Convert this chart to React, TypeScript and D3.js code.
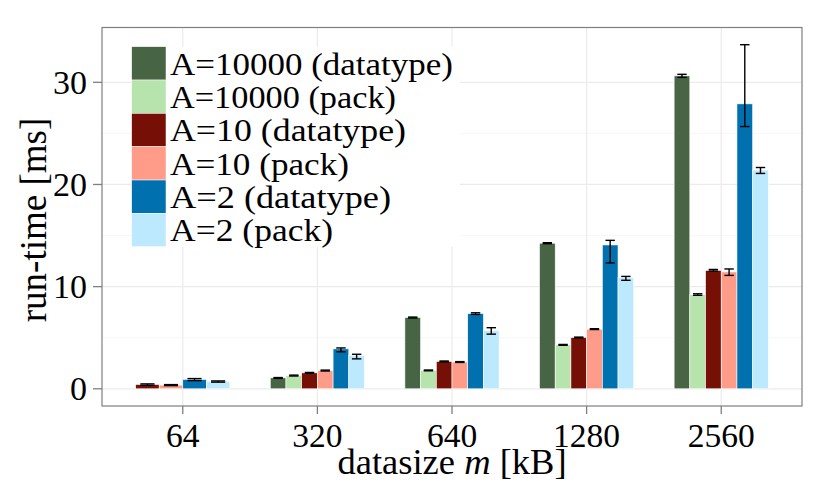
import React from "react";
import * as d3 from "d3";

const categories = ["64", "320", "640", "1280", "2560"];
const seriesNames = [
  "A=10000 (datatype)",
  "A=10000 (pack)",
  "A=10 (datatype)",
  "A=10 (pack)",
  "A=2 (datatype)",
  "A=2 (pack)",
];
const seriesColors = ["#476545", "#b7e4ad", "#761006", "#fe9b89", "#0071ae", "#bde9fe"];

// mean values (null = not measured)
const a10000Datatype = [null, 1.07, 6.98, 14.25, 30.63];
const a10000Pack = [null, 1.3, 1.8, 4.3, 9.22];
const a10Datatype = [0.42, 1.56, 2.68, 5.02, 11.59];
const a10Pack = [0.36, 1.79, 2.62, 5.84, 11.44];
const a2Datatype = [0.92, 3.91, 7.36, 14.08, 27.89];
const a2Pack = [0.72, 3.28, 5.7, 10.88, 21.41];

// error bar lower / upper bounds
const a10000DatatypeLo = [null, 1.02, 6.93, 14.2, 30.48];
const a10000DatatypeHi = [null, 1.1, 7.02, 14.3, 30.78];
const a10000PackLo = [null, 1.25, 1.76, 4.26, 9.15];
const a10000PackHi = [null, 1.34, 1.84, 4.34, 9.3];
const a10DatatypeLo = [0.34, 1.52, 2.64, 4.98, 11.52];
const a10DatatypeHi = [0.48, 1.6, 2.72, 5.06, 11.68];
const a10PackLo = [0.31, 1.74, 2.58, 5.8, 11.1];
const a10PackHi = [0.41, 1.83, 2.66, 5.88, 11.73];
const a2DatatypeLo = [0.8, 3.62, 7.28, 12.32, 25.67];
const a2DatatypeHi = [1.0, 4.0, 7.44, 14.53, 33.68];
const a2PackLo = [0.65, 2.93, 5.35, 10.62, 21.08];
const a2PackHi = [0.77, 3.38, 5.98, 11.0, 21.66];

const yTicks = [0, 10, 20, 30];
const yMinorTicks = [5, 15, 25];

const seriesValues = [a10000Datatype, a10000Pack, a10Datatype, a10Pack, a2Datatype, a2Pack];
const seriesLo = [a10000DatatypeLo, a10000PackLo, a10DatatypeLo, a10PackLo, a2DatatypeLo, a2PackLo];
const seriesHi = [a10000DatatypeHi, a10000PackHi, a10DatatypeHi, a10PackHi, a2DatatypeHi, a2PackHi];

// style: rendered widths of legend labels (to mimic Computer Modern metrics)
const legendLabelWidths = [283, 226, 236, 179, 221, 163];

const W = 830;
const H = 498;
const panel = { left: 102, right: 802, top: 27.5, bottom: 406 };
const FONT = "'Liberation Serif', 'DejaVu Serif', serif";

export default function App() {
  const dataMax = d3.max(seriesHi.flat().filter((v) => v != null) as number[]) as number;
  const dataMin = 0;
  const pad = (dataMax - dataMin) * 0.05;
  const y = d3
    .scaleLinear()
    .domain([dataMin - pad, dataMax + pad])
    .range([panel.bottom, panel.top]);

  // ggplot discrete: expand 0.6 on each side
  const x = d3
    .scalePoint()
    .domain(categories)
    .range([panel.left, panel.right])
    .padding(0.6);
  const step = x.step();
  const cx = (i: number) => x(categories[i]) as number;
  const dodge = 0.7 * step;

  const bars: React.ReactNode[] = [];
  const errs: React.ReactNode[] = [];
  categories.forEach((c, ci) => {
    const present = seriesValues.map((s, si) => (s[ci] != null ? si : -1)).filter((si) => si >= 0);
    const bw = dodge / present.length;
    const start = cx(ci) - dodge / 2;
    present.forEach((si, k) => {
      const v = seriesValues[si][ci] as number;
      const x0 = start + k * bw;
      bars.push(
        <rect
          key={`b${ci}-${si}`}
          x={x0}
          y={y(v)}
          width={bw}
          height={y(0) - y(v)}
          fill={seriesColors[si]}
          stroke="#ffffff"
          strokeWidth={0.6}
        />
      );
      const lo = seriesLo[si][ci] as number;
      const hi = seriesHi[si][ci] as number;
      const mid = x0 + bw / 2;
      const ww = bw * 0.3;
      errs.push(
        <g key={`e${ci}-${si}`} stroke="#000" strokeWidth={1.4} fill="none">
          <line x1={mid} x2={mid} y1={y(lo)} y2={y(hi)} />
          <line x1={mid - ww} x2={mid + ww} y1={y(lo)} y2={y(lo)} />
          <line x1={mid - ww} x2={mid + ww} y1={y(hi)} y2={y(hi)} />
        </g>
      );
    });
  });

  const legX = 131.7;
  const legY = 46.7;
  const keyH = 33.33;
  const keyW = 34.3;

  return (
    <svg width={W} height={H} style={{ position: "absolute", left: 0, top: 0, background: "#fff" }}>
      <rect x={0} y={0} width={W} height={H} fill="#fff" />
      {/* gridlines */}
      {yMinorTicks.map((t) => (
        <line key={`mn${t}`} x1={panel.left} x2={panel.right} y1={y(t)} y2={y(t)} stroke="#f5f5f5" strokeWidth={0.8} />
      ))}
      {yTicks.map((t) => (
        <line key={`mj${t}`} x1={panel.left} x2={panel.right} y1={y(t)} y2={y(t)} stroke="#ebebeb" strokeWidth={1.2} />
      ))}
      {categories.map((c, i) => (
        <line key={`vg${c}`} x1={cx(i)} x2={cx(i)} y1={panel.top} y2={panel.bottom} stroke="#ebebeb" strokeWidth={1.2} />
      ))}
      {bars}
      {errs}
      {/* legend */}
      <rect x={legX} y={legY} width={328} height={keyH * 6} fill="#fff" />
      {seriesNames.map((n, i) => (
        <g key={`lg${i}`}>
          <rect x={legX} y={legY + i * keyH} width={keyW} height={keyH} fill={seriesColors[i]} stroke="#fff" strokeWidth={0.5} />
          <text
            x={legX + keyW + 4}
            y={legY + i * keyH + 28}
            fontFamily={FONT}
            fontSize={31.5}
            textLength={legendLabelWidths[i]}
            lengthAdjust="spacingAndGlyphs"
            fill="#000"
          >
            {n}
          </text>
        </g>
      ))}
      {/* panel border */}
      <rect
        x={panel.left}
        y={panel.top}
        width={panel.right - panel.left}
        height={panel.bottom - panel.top}
        fill="none"
        stroke="#7f7f7f"
        strokeWidth={1.2}
      />
      {/* y axis ticks */}
      {yTicks.map((t) => (
        <g key={`yt${t}`}>
          <line x1={panel.left - 9} x2={panel.left} y1={y(t)} y2={y(t)} stroke="#7f7f7f" strokeWidth={1.3} />
          <text x={panel.left - 15} y={y(t) + 11.5} textAnchor="end" fontFamily={FONT} fontSize={34} fill="#000">
            {t}
          </text>
        </g>
      ))}
      {/* x axis ticks */}
      {categories.map((c, i) => (
        <g key={`xt${c}`}>
          <line x1={cx(i)} x2={cx(i)} y1={panel.bottom} y2={panel.bottom + 8} stroke="#7f7f7f" strokeWidth={1.3} />
          <text x={cx(i)} y={447} textAnchor="middle" fontFamily={FONT} fontSize={33.5} fill="#000">
            {c}
          </text>
        </g>
      ))}
      {/* axis titles */}
      <text x={(panel.left + panel.right) / 2} y={473.5} textAnchor="middle" fontFamily={FONT} fontSize={36.5} fill="#000">
        datasize <tspan fontStyle="italic">m</tspan> [kB]
      </text>
      <text
        transform={`translate(46, 220) rotate(-90)`}
        textAnchor="middle"
        fontFamily={FONT}
        fontSize={37}
        fill="#000"
      >
        run-time [ms]
      </text>
    </svg>
  );
}
